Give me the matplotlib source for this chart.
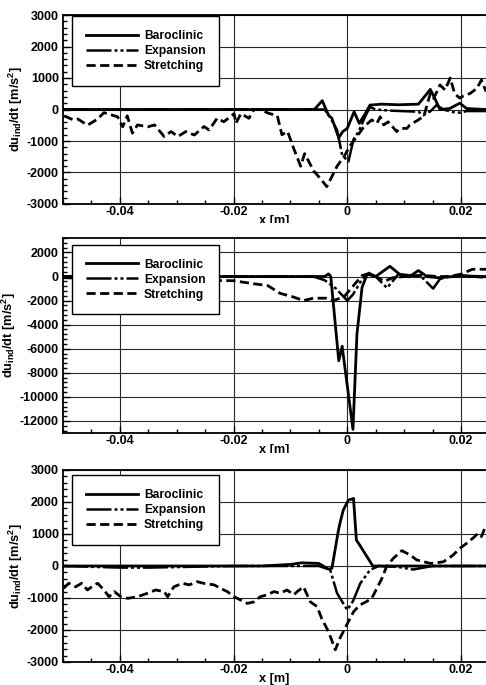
import numpy as np
import matplotlib
matplotlib.use("Agg")
import matplotlib.pyplot as plt
from matplotlib.ticker import MultipleLocator, AutoMinorLocator, FuncFormatter
from matplotlib.transforms import Bbox, TransformedBbox

plt.rcParams["font.family"] = ["Liberation Sans", "DejaVu Sans"]
plt.rcParams["font.weight"] = "bold"
plt.rcParams["axes.unicode_minus"] = False
plt.rcParams["mathtext.fontset"] = "custom"
plt.rcParams["mathtext.rm"] = "Liberation Sans:bold"
plt.rcParams["mathtext.bf"] = "Liberation Sans:bold"

# -------------------------------
# Data
# -------------------------------
# panel 1
p1_baro_x = [-0.05, -0.0058, -0.0044, -0.0033, -0.0027, -0.0015, -0.0008, 0.0, 0.0012,
             0.0021, 0.0032, 0.004, 0.006, 0.009, 0.0125, 0.014, 0.0146, 0.0154, 0.0163,
             0.018, 0.0198, 0.021, 0.0244]
p1_baro_y = [0, 0, 280, -180, -280, -900, -700, -600, -70,
             -440, -120, 140, 170, 150, 170, 500, 640, 350, 0,
             30, 200, 30, 0]

p1_exp_x = [-0.05, -0.004, -0.003, -0.0018, -0.0009, 0.0002, 0.0011, 0.002, 0.0032,
            0.004, 0.005, 0.008, 0.0125, 0.0134, 0.0146, 0.0157, 0.0169, 0.0185, 0.0198,
            0.021, 0.0244]
p1_exp_y = [0, 0, -250, -650, -1450, -1650, -950, -700, -200,
            80, 0, -40, -70, -180, -60, 140, 0, -80, -100,
            -50, -50]

p1_str_x = [-0.0498, -0.0482, -0.0474, -0.0457, -0.0439, -0.0428, -0.0404, -0.0395, -0.0387,
            -0.0378, -0.0369, -0.0351, -0.0339, -0.0322, -0.031, -0.0298, -0.0284, -0.0269,
            -0.0252, -0.0243, -0.0229, -0.0217, -0.0199, -0.0196, -0.0187, -0.0173, -0.0164,
            -0.0152, -0.014, -0.0123, -0.0115, -0.0105, -0.0094, -0.0082, -0.0075, -0.0059,
            -0.0047, -0.0036, -0.0018, -0.0006, 0.0005, 0.0017, 0.0029, 0.0043, 0.0052,
            0.0058, 0.0064, 0.0072, 0.0087, 0.0093, 0.0105, 0.011, 0.0125, 0.0135, 0.0146,
            0.0152, 0.0163, 0.0172, 0.0181, 0.0189, 0.0198, 0.0204, 0.0216, 0.0228, 0.0236,
            0.0244]
p1_str_y = [-200, -330, -300, -500, -300, -100, -230, -550, -200,
            -750, -490, -550, -490, -860, -700, -860, -700, -810,
            -540, -650, -280, -390, -130, -440, -130, -280, 0,
            0, -110, -200, -800, -700, -1250, -1800, -1400, -1950,
            -2200, -2450, -1800, -1500, -1150, -860, -550, -330, -440,
            -230, -490, -390, -700, -600, -600, -490, -330, -200, 510,
            350, 780, 620, 1000, 500, 360, 430, 510, 670, 940,
            570]

# panel 2
p2_baro_x = [-0.05, -0.004, -0.0033, -0.0029, -0.0015, -0.0009, 0.001, 0.0017, 0.0026,
             0.0035, 0.005, 0.0075, 0.0093, 0.011, 0.0125, 0.014, 0.016, 0.02, 0.0244]
p2_baro_y = [0, 0, 220, 0, -7000, -5800, -12700, -4800, -900,
             200, 0, 850, 150, 0, 500, 0, -100, 50, 0]

p2_exp_x = [-0.05, -0.006, -0.004, -0.002, 0.0, 0.001, 0.0025, 0.0038, 0.005, 0.007,
            0.009, 0.011, 0.013, 0.0151, 0.0163, 0.018, 0.02, 0.0244]
p2_exp_y = [0, 0, -300, -1000, -2000, -1500, -300, 300, 0, -950,
            200, 100, 0, -1000, -200, 0, 100, -100]

p2_str_x = [-0.05, -0.045, -0.04, -0.035, -0.03, -0.0226, -0.02, -0.0165, -0.014, -0.0118,
            -0.0095, -0.0077, -0.006, -0.0037, -0.0025, -0.0006, 0.0011, 0.0026, 0.0035,
            0.005, 0.0065, 0.008, 0.01, 0.013, 0.016, 0.018, 0.02, 0.022, 0.0244]
p2_str_y = [-100, -150, -200, -250, -300, -330, -350, -600, -750, -1400,
            -1700, -2000, -1800, -1800, -2000, -1700, -750, 80, 200,
            0, -400, -100, 0, 100, 0, 0, 200, 600, 600]

# panel 3
p3_baro_x = [-0.05, -0.03, -0.015, -0.01, -0.008, -0.005, -0.0033, -0.0027, -0.0016,
             -0.0013, -0.0007, 0.0002, 0.0011, 0.0016, 0.0022, 0.0045, 0.006, 0.0244]
p3_baro_y = [0, 0, 0, 50, 100, 80, -100, -70, 1070,
             1330, 1750, 2060, 2110, 810, 650, 0, 0, 0]

p3_exp_x = [-0.05, -0.04, -0.035, -0.02, -0.01, -0.005, -0.003, -0.0018, 0.0, 0.001,
            0.0023, 0.004, 0.0055, 0.009, 0.0116, 0.015, 0.0244]
p3_exp_y = [0, -50, -50, 0, 0, 0, -120, -850, -1375, -1100,
            -540, -125, 0, -30, -110, 0, 0]

p3_str_x = [-0.0499, -0.049, -0.0478, -0.0467, -0.0457, -0.0445, -0.0439, -0.0428, -0.0419,
            -0.041, -0.0398, -0.0386, -0.0369, -0.0351, -0.0337, -0.0322, -0.0316, -0.0305,
            -0.029, -0.0278, -0.0264, -0.0253, -0.0234, -0.0223, -0.0211, -0.0199, -0.0188,
            -0.0176, -0.0164, -0.0153, -0.0141, -0.0129, -0.0118, -0.0106, -0.0094, -0.0088,
            -0.0077, -0.0065, -0.0053, -0.0045, -0.0033, -0.0021, -0.0013, -0.0001, 0.0011,
            0.0022, 0.0034, 0.0043, 0.0052, 0.0061, 0.0069, 0.0081, 0.0096, 0.0111, 0.0122,
            0.0146, 0.0169, 0.0186, 0.0198, 0.021, 0.0221, 0.023, 0.0236, 0.0244]
p3_str_y = [-700, -540, -650, -540, -750, -590, -540, -750, -960,
            -800, -960, -1010, -960, -850, -750, -800, -960, -650,
            -540, -590, -490, -540, -590, -700, -800, -960, -1060,
            -1170, -1120, -960, -900, -800, -850, -750, -900, -800,
            -650, -1120, -1270, -1640, -2050, -2620, -2260, -1840, -1430,
            -1220, -1110, -1010, -700, -385, -20, 240, 480, 340, 190,
            80, 130, 340, 550, 710, 870, 1020, 920, 1280]

labels = ["Baroclinic", "Expansion", "Stretching"]
panel_ylims = [(-3000, 3000), (-13000, 3200), (-3000, 3000)]
panel_ysteps = [1000, 2000, 1000]

panels = [
    [(p1_baro_x, p1_baro_y), (p1_exp_x, p1_exp_y), (p1_str_x, p1_str_y)],
    [(p2_baro_x, p2_baro_y), (p2_exp_x, p2_exp_y), (p2_str_x, p2_str_y)],
    [(p3_baro_x, p3_baro_y), (p3_exp_x, p3_exp_y), (p3_str_x, p3_str_y)],
]

# -------------------------------
# Figure layout (pixel boxes from the reference)
# -------------------------------
W, H = 486, 685
fig = plt.figure(figsize=(W / 100, H / 100), dpi=100)

boxes = [(15, 204), (238, 433), (470, 662)]  # top, bottom in px
legend_tops = [0.995, 0.966, 0.974]
xlabel_clip = [223, 453, None]

styles = [
    dict(color="black", lw=2.0, linestyle="-"),
    dict(color="black", lw=1.8, linestyle=(0, (10, 1.2, 1.2, 1.2, 1.2, 1.2))),
    dict(color="black", lw=2.0, linestyle=(0, (3.3, 1.6))),
]

for i, (top, bot) in enumerate(boxes):
    ax = fig.add_axes([63 / W, 1 - bot / H, 1 - 63 / W, (bot - top) / H])
    for (xs, ys), style, lab in zip(panels[i], styles, labels):
        ax.plot(xs, ys, label=lab, **style)

    ax.set_xlim(-0.05, 0.0244)
    ax.set_ylim(*panel_ylims[i])
    ax.xaxis.set_major_locator(MultipleLocator(0.02))
    ax.xaxis.set_minor_locator(MultipleLocator(0.005))
    ax.yaxis.set_major_locator(MultipleLocator(panel_ysteps[i]))
    ax.yaxis.set_minor_locator(AutoMinorLocator(5))
    ax.xaxis.set_major_formatter(FuncFormatter(lambda v, p: f"{v:g}"))
    ax.yaxis.set_major_formatter(FuncFormatter(lambda v, p: f"{int(round(v))}"))

    ax.grid(True, which="major", color="0.15", lw=0.8)
    ax.tick_params(which="both", direction="in", labelsize=9, width=1,
                   top=False, right=False)
    ax.tick_params(which="major", length=5, pad=3)
    ax.tick_params(axis="x", which="major", pad=1.5)
    ax.tick_params(which="minor", length=3)
    ax.spines["right"].set_visible(False)
    for s in ["left", "bottom", "top"]:
        ax.spines[s].set_linewidth(1.3)

    ax.set_ylabel(r"du$_\mathbf{ind}$/dt [m/s$^\mathbf{2}$]", fontsize=9.2,
                  fontweight="bold", labelpad=1)
    xl = ax.set_xlabel("x [m]", fontsize=9.2, fontweight="bold", labelpad=-2.5)
    if xlabel_clip[i] is not None:
        clip = TransformedBbox(Bbox([[0, 1 - xlabel_clip[i] / H], [1, 1]]),
                               fig.transFigure)
        xl.set_clip_box(clip)
        xl.set_clip_on(True)

    leg = ax.legend(loc="upper left", bbox_to_anchor=(0.021, legend_tops[i]),
                    fontsize=8.7, handlelength=4.3, handletextpad=0.5,
                    labelspacing=0.25, borderpad=1.15, borderaxespad=0,
                    fancybox=False, framealpha=1, edgecolor="black")
    leg.get_frame().set_linewidth(1.0)
    for t in leg.get_texts():
        t.set_fontweight("bold")

fig.savefig("out.png", dpi=100)
